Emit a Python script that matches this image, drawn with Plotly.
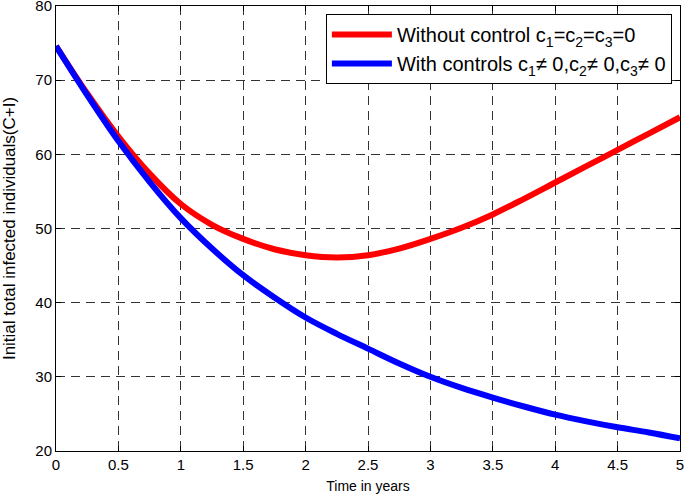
"""Total infected individuals (C+I) with and without controls."""

import plotly.graph_objects as go

# time points (years)
t = [0, 0.25, 0.5, 0.75, 1, 1.25, 1.5, 1.75, 2, 2.25, 2.5,
     2.75, 3, 3.25, 3.5, 3.75, 4, 4.25, 4.5, 4.75, 5]

# without control c1=c2=c3=0
no_control = [74.6, 68.2, 62.4, 57.4, 53.3, 50.5, 48.6, 47.2, 46.4, 46.1, 46.4,
              47.3, 48.6, 50.1, 51.9, 54.0, 56.2, 58.4, 60.6, 62.8, 65.0]

# with controls c1, c2, c3 != 0
with_control = [74.6, 68.0, 61.8, 56.3, 51.4, 47.3, 43.7, 40.7, 38.0, 35.8, 33.8,
                31.8, 30.0, 28.5, 27.2, 26.0, 24.9, 24.0, 23.2, 22.5, 21.7]

x_ticks = [0, 0.5, 1, 1.5, 2, 2.5, 3, 3.5, 4, 4.5, 5]
x_labels = ["0", "0.5", "1", "1.5", "2", "2.5", "3", "3.5", "4", "4.5", "5"]
y_ticks = [20, 30, 40, 50, 60, 70, 80]

FONT = "Liberation Sans, Arial, sans-serif"

fig = go.Figure()
fig.add_trace(go.Scatter(
    x=t, y=no_control, mode="lines", line=dict(color="#ff0000", width=6, shape="spline"),
    name="Without control c<sub>1</sub>=c<sub>2</sub>=c<sub>3</sub>=0"))
fig.add_trace(go.Scatter(
    x=t, y=with_control, mode="lines", line=dict(color="#0000ff", width=6, shape="spline"),
    name="With controls c<sub>1</sub>\u2260 0,c<sub>2</sub>\u2260 0,c<sub>3</sub>\u2260 0"))

axis_common = dict(
    showline=True, linecolor="black", linewidth=1, mirror="ticks",
    ticks="inside", ticklen=5, tickcolor="black",
    showgrid=True, gridcolor="#333333", gridwidth=1, griddash="9px,6px",
    zeroline=False, automargin=False, ticklabeloverflow="allow",
    tickfont=dict(size=15, color="black", family=FONT),
)

fig.update_layout(
    width=685, height=496,
    margin=dict(l=56, r=5, t=6, b=45),
    paper_bgcolor="white", plot_bgcolor="white",
    font=dict(family=FONT, color="black"),
    showlegend=True,
    legend=dict(x=0.987, y=0.982, xanchor="right", yanchor="top",
                bgcolor="white", bordercolor="black", borderwidth=1,
                itemwidth=60, tracegroupgap=4,
                font=dict(size=20, family=FONT)),
    xaxis=dict(range=[0, 5], tickvals=x_ticks, ticktext=x_labels,
               title=dict(text="Time in years", font=dict(size=14), standoff=9),
               **axis_common),
    yaxis=dict(range=[20, 80], tickvals=y_ticks,
               title=dict(text="Initial total infected individuals(C+I)",
                          font=dict(size=17), standoff=16),
               **axis_common),
)

# the page body has a default 8px margin; drop it so the figure sits at (0,0)
fig.write_html("out.html", config={"displayModeBar": False},
               post_script="document.body.style.margin='0';")
